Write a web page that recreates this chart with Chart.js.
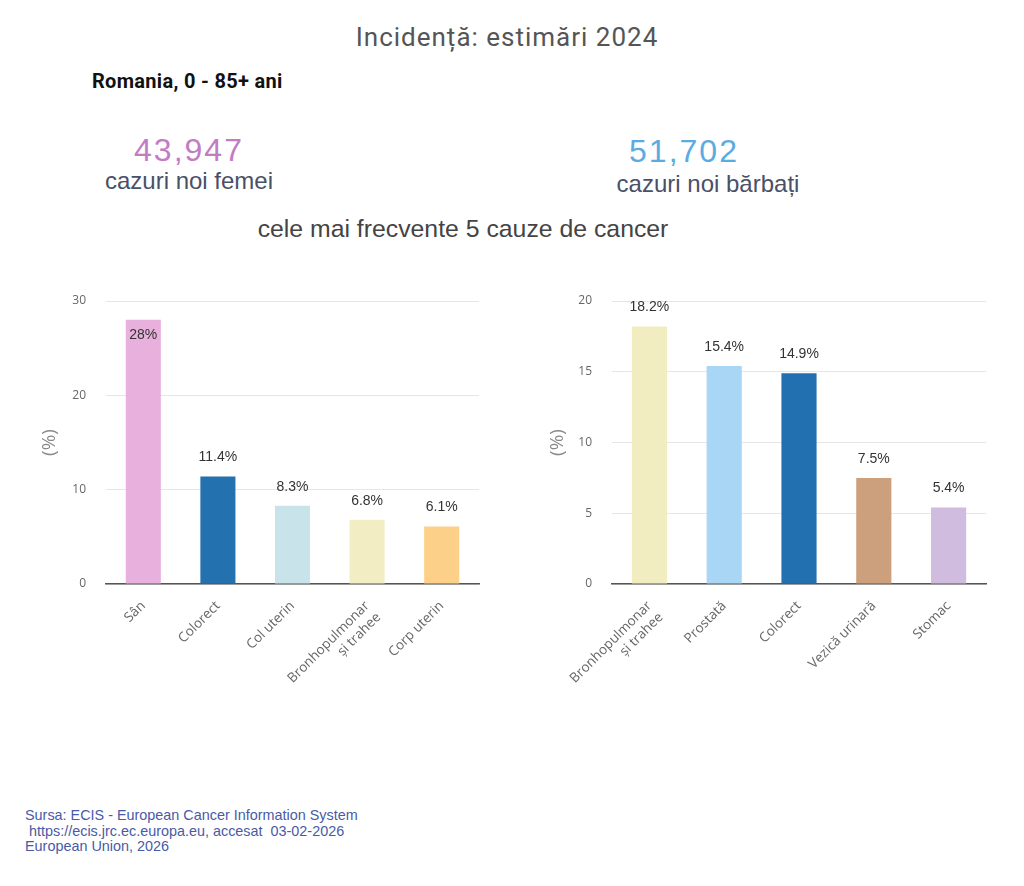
<!DOCTYPE html>
<html><head><meta charset="utf-8">
<script src="https://cdn.jsdelivr.net/npm/chart.js@4"></script>
<style>
html,body{margin:0;padding:0;background:#fff;width:1024px;height:886px;overflow:hidden;}
.t{position:absolute;white-space:nowrap;}
canvas{position:absolute;}
</style></head><body>
<div class="t" id="title" style="left:0;width:1014px;text-align:center;top:22px;font:26px Roboto;color:#555;letter-spacing:1px">Incidență: estimări 2024</div>
<div class="t" style="left:92px;top:69px;font:bold 20px Roboto;color:#111;letter-spacing:0.3px">Romania, 0 - 85+ ani</div>
<div class="t" style="left:89px;width:200px;text-align:center;top:132px;font:32px 'Liberation Sans';color:#c27cc4;letter-spacing:2px">43,947</div>
<div class="t" style="left:89px;width:200px;text-align:center;top:167px;font:24px 'Liberation Sans';color:#4a5068">cazuri noi femei</div>
<div class="t" style="left:584px;width:200px;text-align:center;top:133px;font:32px 'Liberation Sans';color:#5aabe2;letter-spacing:2px">51,702</div>
<div class="t" style="left:608px;width:200px;text-align:center;top:170px;font:24px 'Liberation Sans';color:#4a5068">cazuri noi bărbați</div>
<div class="t" style="left:213px;width:500px;text-align:center;top:215px;font:24.8px 'Liberation Sans';color:#444">cele mai frecvente 5 cauze de cancer</div>
<canvas id="c1" width="500" height="460" style="left:0;top:270px"></canvas>
<canvas id="c2" width="500" height="460" style="left:510px;top:270px"></canvas>
<div class="t" style="left:25px;top:808px;font:14.4px 'Liberation Sans';color:#4a5aa6;line-height:15.5px">Sursa: ECIS - European Cancer Information System<br>&nbsp;https://ecis.jrc.ec.europa.eu, accesat&nbsp; 03-02-2026<br>European Union, 2026</div>
<script>
const femaleCategories = ['Sân', 'Colorect', 'Col uterin', ['Bronhopulmonar', 'și trahee'], 'Corp uterin'];
const femaleValues = [28, 11.4, 8.3, 6.8, 6.1];
const femaleColors = ['#e8b0dc', '#2471b0', '#c8e3ea', '#f2edc2', '#fdd08a'];
const femaleTicks = [0, 10, 20, 30];

const maleCategories = [['Bronhopulmonar', 'și trahee'], 'Prostată', 'Colorect', 'Vezică urinară', 'Stomac'];
const maleValues = [18.2, 15.4, 14.9, 7.5, 5.4];
const maleColors = ['#f2edc0', '#a8d6f4', '#2370b0', '#cca07c', '#d0bcdf'];
const maleTicks = [0, 5, 10, 15, 20];

const labelPlugin = {
  id: 'barLabels',
  afterDatasetsDraw(chart) {
    const ctx = chart.ctx;
    const meta = chart.getDatasetMeta(0);
    const vals = chart.data.datasets[0].data;
    ctx.save();
    ctx.font = '14px "Liberation Sans"';
    ctx.fillStyle = '#333';
    ctx.textAlign = 'center';
    ctx.textBaseline = 'middle';
    meta.data.forEach((bar, i) => {
      let y = bar.y - 19;
      if (y - 5 < chart.chartArea.top) y = bar.y + 15;
      ctx.fillText(vals[i] + '%', bar.x, y);
    });
    ctx.restore();
  }
};

function makeChart(id, cats, vals, colors, ticks, yW, padL, padR) {
  const maxV = ticks[ticks.length - 1];
  const step = ticks[1] - ticks[0];
  return new Chart(document.getElementById(id), {
    type: 'bar',
    data: { labels: cats, datasets: [{ data: vals, backgroundColor: colors, barPercentage: 0.47, categoryPercentage: 1 }] },
    options: {
      responsive: false, animation: false,
      layout: { padding: { top: 31, right: padR, left: padL, bottom: 0 } },
      plugins: { legend: { display: false }, tooltip: { enabled: false } },
      scales: {
        x: {
          grid: { display: false },
          border: { display: true, color: '#555', width: 1.5 },
          ticks: { maxRotation: 45, minRotation: 45, padding: 6, color: '#666', font: { family: 'Open Sans', size: 13.5 } },
          afterFit: s => { s.height = 146; }
        },
        y: {
          min: 0, max: maxV,
          border: { display: false },
          grid: { color: '#e6e6e6', drawTicks: false },
          ticks: { stepSize: step, padding: 20, color: '#666', font: { family: 'Open Sans', size: 12 } },
          title: { display: true, text: '(%)', color: '#888', padding: { top: 0, bottom: 0 }, font: { family: 'Open Sans', size: 19 } },
          afterFit: s => { s.width = yW; }
        }
      }
    },
    plugins: [labelPlugin]
  });
}
makeChart('c1', femaleCategories, femaleValues, femaleColors, femaleTicks, 68, 38, 21);
makeChart('c2', maleCategories, maleValues, maleColors, maleTicks, 66, 36, 24);
</script>
</body></html>
